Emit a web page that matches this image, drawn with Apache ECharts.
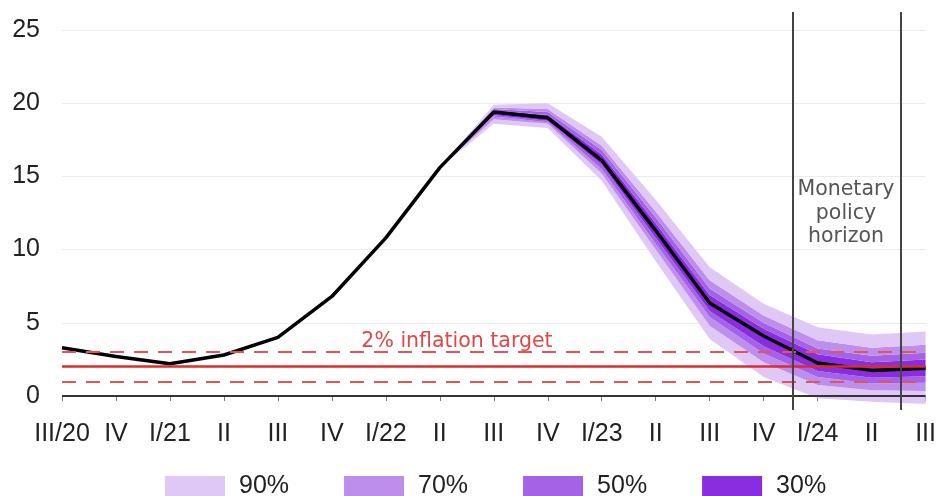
<!DOCTYPE html>
<html>
<head>
<meta charset="utf-8">
<script src="https://cdn.jsdelivr.net/npm/echarts@6/dist/echarts.min.js"></script>
<style>
  html, body { margin: 0; padding: 0; background: #fff; }
  #chart { width: 939px; height: 496px; }
</style>
</head>
<body>
<div id="chart"></div>
<script>
const quarters = ["III/20", "IV", "I/21", "II", "III", "IV", "I/22", "II", "III", "IV", "I/23", "II", "III", "IV", "I/24", "II", "III"];
const yTicks = [0, 5, 10, 15, 20, 25];

// headline inflation, %
const inflation = [3.3, 2.7, 2.2, 2.8, 4.0, 6.8, 10.8, 15.6, 19.4, 19.0, 16.1, 11.3, 6.35, 4.1, 2.25, 1.75, 1.9];

// fan chart bounds (from II/22 on)
const lo90 = ["-", "-", "-", "-", "-", "-", "-", 15.6, 18.6, 18.3, 14.7, 9.2, 3.9, 1.3, -0.15, -0.4, -0.55];
const lo70 = ["-", "-", "-", "-", "-", "-", "-", 15.6, 18.9, 18.6, 15.2, 10.0, 4.8, 2.3, 0.75, 0.4, 0.35];
const lo50 = ["-", "-", "-", "-", "-", "-", "-", 15.6, 19.1, 18.7, 15.5, 10.4, 5.4, 2.9, 1.3, 0.85, 0.9];
const lo30 = ["-", "-", "-", "-", "-", "-", "-", 15.6, 19.2, 18.8, 15.8, 10.8, 5.8, 3.4, 1.7, 1.25, 1.35];
const hi30 = ["-", "-", "-", "-", "-", "-", "-", 15.6, 19.5, 19.2, 16.5, 11.8, 6.9, 4.6, 2.85, 2.3, 2.5];
const hi50 = ["-", "-", "-", "-", "-", "-", "-", 15.6, 19.6, 19.4, 16.8, 12.2, 7.35, 5.0, 3.25, 2.75, 2.95];
const hi70 = ["-", "-", "-", "-", "-", "-", "-", 15.6, 19.7, 19.6, 17.1, 12.6, 7.9, 5.5, 3.8, 3.3, 3.5];
const hi90 = ["-", "-", "-", "-", "-", "-", "-", 15.6, 19.9, 20.0, 17.7, 13.4, 8.8, 6.3, 4.7, 4.2, 4.4];

const bandNames = ["90%", "70%", "50%", "30%"];
const target = 2;
const targetRange = [1, 3];
const horizon = [13.5, 15.5]; // quarter positions of the policy horizon lines

const colors = {
  "90%": "#dfc8f5",
  "70%": "#be8eed",
  "50%": "#a462e7",
  "30%": "#8a2ce0",
};

function diff(a, b) {
  return a.map((v, i) => (v === "-" ? "-" : +(v - b[i]).toFixed(3)));
}

function band(name, data) {
  return {
    name: name,
    type: "line",
    stack: "fan",
    stackStrategy: "all",
    data: data,
    symbol: "none",
    clip: false,
    silent: true,
    z: 2,
    lineStyle: { width: 0 },
    itemStyle: { color: colors[name] },
    areaStyle: { color: colors[name], opacity: 1 },
  };
}

const chart = echarts.init(document.getElementById("chart"));
const option = {
  animation: false,
  grid: [
    { left: 62, right: 11, top: 30, bottom: 100 },
    { left: 62, right: 11, top: 12, bottom: 86 },
  ],
  legend: {
    data: bandNames,
    top: 469,
    left: 160,
    icon: "rect",
    itemWidth: 60,
    itemHeight: 21,
    itemGap: 55,
    textStyle: { fontSize: 25, color: "#222", fontFamily: "Liberation Sans", padding: [0, 0, 0, 9] },
  },
  xAxis: [
    {
      type: "category",
      data: quarters,
      boundaryGap: false,
      gridIndex: 0,
      offset: 17,
      axisLine: { show: false },
      axisTick: { show: true, length: 5, lineStyle: { color: "#777" } },
      axisLabel: { interval: 0, fontSize: 25, color: "#222", margin: 9, fontFamily: "Liberation Sans" },
    },
    { type: "value", gridIndex: 1, min: 0, max: quarters.length - 1, show: false },
  ],
  yAxis: [
    {
      type: "value",
      gridIndex: 0,
      min: yTicks[0],
      max: yTicks[yTicks.length - 1],
      interval: 5,
      axisLine: { show: false },
      axisTick: { show: false },
      axisLabel: { fontSize: 25, color: "#222", margin: 22, fontFamily: "Liberation Sans" },
      splitLine: { lineStyle: { color: "#ebebeb", width: 1 } },
    },
    { type: "value", gridIndex: 1, min: 0, max: 1, show: false },
  ],
  graphic: [
    {
      type: "text",
      x: 457,
      y: 331,
      style: { text: "2% inflation target", fill: "#e04848", fontSize: 20.5, align: "center", fontFamily: "DejaVu Sans" },
    },
    {
      type: "text",
      x: 846,
      y: 178,
      style: {
        text: "Monetary\npolicy\nhorizon",
        fill: "#555",
        fontSize: 20.5,
        lineHeight: 23.5,
        align: "center",
        fontFamily: "DejaVu Sans",
      },
    },
  ],
  series: [
    {
      name: "base",
      type: "line",
      stack: "fan",
      stackStrategy: "all",
      data: lo90,
      symbol: "none",
      clip: false,
      silent: true,
      lineStyle: { width: 0 },
    },
    band("90%", diff(lo70, lo90)),
    band("70%", diff(lo50, lo70)),
    band("50%", diff(lo30, lo50)),
    band("30%", diff(hi30, lo30)),
    band("50%", diff(hi50, hi30)),
    band("70%", diff(hi70, hi50)),
    band("90%", diff(hi90, hi70)),
    {
      name: "targets",
      type: "line",
      data: quarters.map(() => "-"),
      symbol: "none",
      silent: true,
      z: 3,
      markLine: {
        symbol: "none",
        silent: true,
        label: { show: false },
        data: [
          { yAxis: 0, lineStyle: { color: "#333", width: 2, type: "solid" } },
          { yAxis: target, lineStyle: { color: "#dd2c2c", width: 2.5, type: "solid" } },
          { yAxis: targetRange[0], lineStyle: { color: "#e25555", width: 2, type: [14, 10] } },
          { yAxis: targetRange[1], lineStyle: { color: "#e25555", width: 2, type: [14, 10] } },
        ],
      },
    },
    {
      name: "inflation",
      type: "line",
      data: inflation,
      symbol: "none",
      z: 4,
      lineStyle: { color: "#000", width: 3.5 },
    },
    {
      name: "horizon",
      type: "line",
      xAxisIndex: 1,
      yAxisIndex: 1,
      data: [],
      symbol: "none",
      z: 5,
      markLine: {
        symbol: "none",
        silent: true,
        label: { show: false },
        lineStyle: { color: "#444", width: 2, type: "solid" },
        data: horizon.map((x) => ({ xAxis: x })),
      },
    },
  ],
};
chart.setOption(option);
window.addEventListener("resize", chart.resize);
</script>
</body>
</html>
